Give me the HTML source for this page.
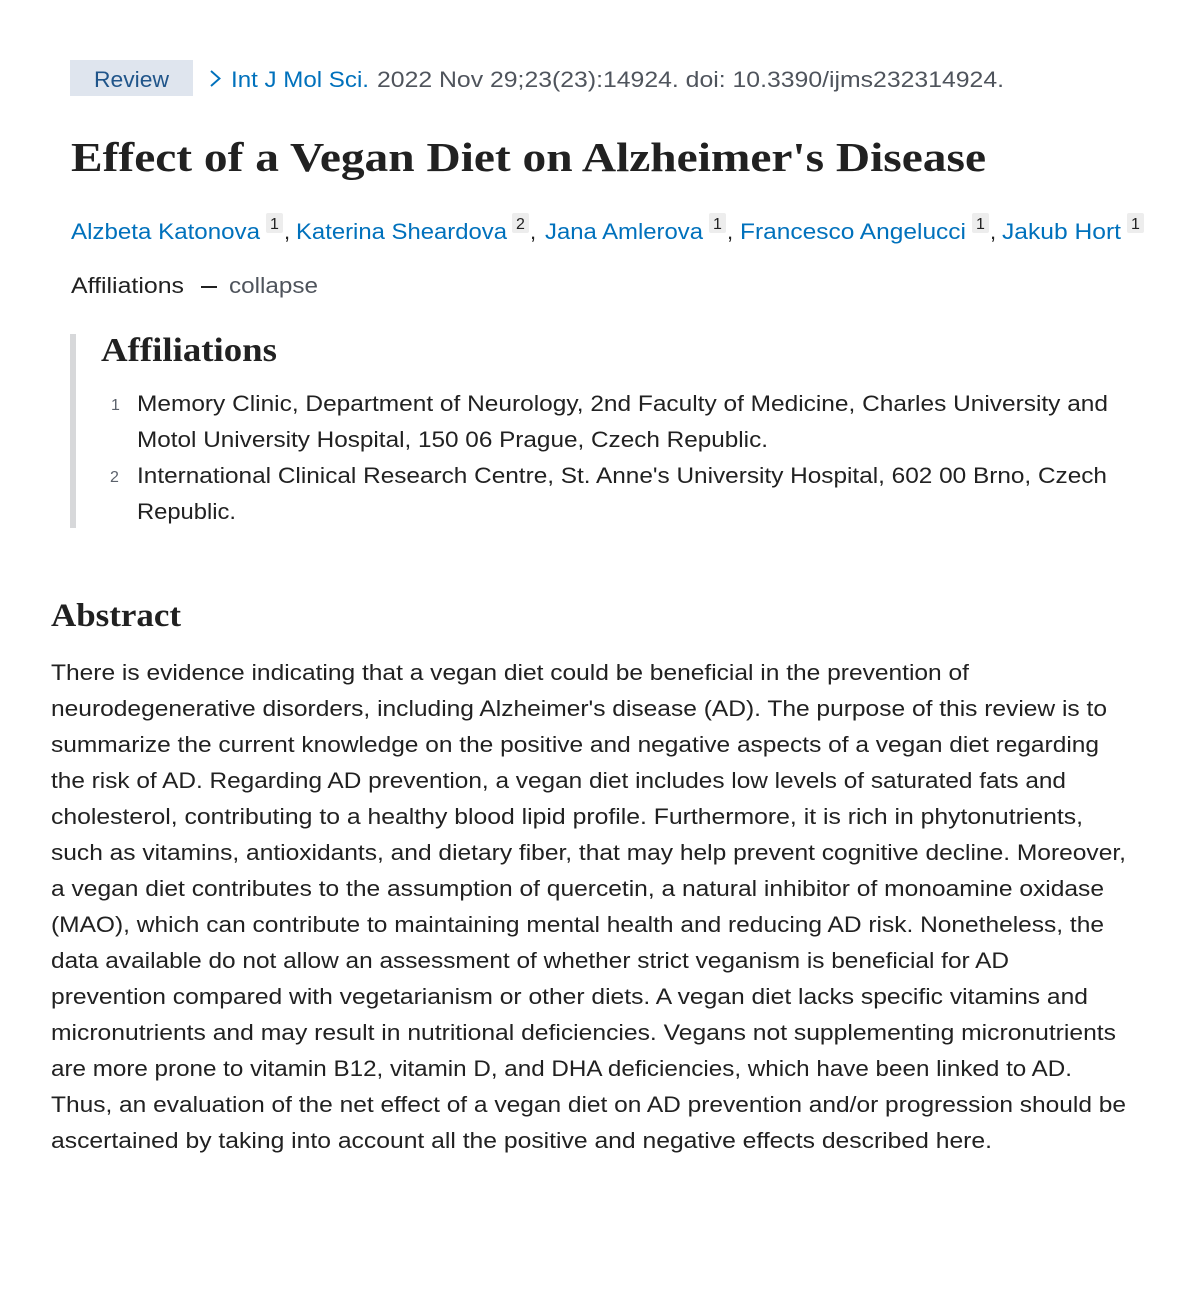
<!DOCTYPE html>
<html>
<head>
<meta charset="utf-8">
<style>
  html, body { margin: 0; padding: 0; background: #ffffff; }
  svg { display: block; }
  .sans { font-family: "Liberation Sans", Arial, sans-serif; }
  .serif { font-family: "Liberation Serif", "Times New Roman", serif; font-weight: bold; }
</style>
</head>
<body>
<svg width="1200" height="1308" viewBox="0 0 1200 1308" xmlns="http://www.w3.org/2000/svg">
  <rect x="0" y="0" width="1200" height="1308" fill="#ffffff"/>

  <!-- Review badge -->
  <rect x="70" y="60" width="123" height="36" fill="#dfe5ee"/>
  <text class="sans" x="94" y="87" font-size="22" fill="#20558a" textLength="75" lengthAdjust="spacingAndGlyphs">Review</text>

  <!-- citation -->
  <polyline points="211,71 219.5,78.5 211,86" fill="none" stroke="#0071bc" stroke-width="1.9"/>
  <text class="sans" x="231" y="87" font-size="22" fill="#0071bc" textLength="138" lengthAdjust="spacingAndGlyphs">Int J Mol Sci.</text>
  <text class="sans" x="377" y="87" font-size="22" fill="#4f545c" textLength="627" lengthAdjust="spacingAndGlyphs">2022 Nov 29;23(23):14924. doi: 10.3390/ijms232314924.</text>

  <!-- title -->
  <text class="serif" x="71" y="171" font-size="41" fill="#212121" textLength="915" lengthAdjust="spacingAndGlyphs">Effect of a Vegan Diet on Alzheimer's Disease</text>

  <!-- authors -->
  <g class="sans" font-size="22">
    <text x="71" y="239" fill="#0071bc" textLength="189" lengthAdjust="spacingAndGlyphs">Alzbeta Katonova</text>
    <rect x="266" y="213" width="17" height="20" rx="2" fill="#ededed"/>
    <text x="274.5" y="229" font-size="16" fill="#212121" text-anchor="middle">1</text>
    <text x="284" y="239" fill="#212121">,</text>

    <text x="296" y="239" fill="#0071bc" textLength="211" lengthAdjust="spacingAndGlyphs">Katerina Sheardova</text>
    <rect x="512" y="213" width="17" height="20" rx="2" fill="#ededed"/>
    <text x="520.5" y="229" font-size="16" fill="#212121" text-anchor="middle">2</text>
    <text x="530" y="239" fill="#212121">,</text>

    <text x="545" y="239" fill="#0071bc" textLength="158" lengthAdjust="spacingAndGlyphs">Jana Amlerova</text>
    <rect x="709" y="213" width="17" height="20" rx="2" fill="#ededed"/>
    <text x="717.5" y="229" font-size="16" fill="#212121" text-anchor="middle">1</text>
    <text x="727" y="239" fill="#212121">,</text>

    <text x="740" y="239" fill="#0071bc" textLength="226" lengthAdjust="spacingAndGlyphs">Francesco Angelucci</text>
    <rect x="972" y="213" width="17" height="20" rx="2" fill="#ededed"/>
    <text x="980.5" y="229" font-size="16" fill="#212121" text-anchor="middle">1</text>
    <text x="990" y="239" fill="#212121">,</text>

    <text x="1002" y="239" fill="#0071bc" textLength="119" lengthAdjust="spacingAndGlyphs">Jakub Hort</text>
    <rect x="1127" y="213" width="17" height="20" rx="2" fill="#ededed"/>
    <text x="1135.5" y="229" font-size="16" fill="#212121" text-anchor="middle">1</text>
  </g>

  <!-- Affiliations toggle -->
  <text class="sans" x="71" y="293" font-size="22" fill="#212121" textLength="113" lengthAdjust="spacingAndGlyphs">Affiliations</text>
  <rect x="201" y="286" width="16" height="2" fill="#212121"/>
  <text class="sans" x="229" y="293" font-size="22" fill="#4f545c" textLength="89" lengthAdjust="spacingAndGlyphs">collapse</text>

  <!-- Affiliations block -->
  <rect x="70" y="334" width="6" height="194" fill="#d7d8da"/>
  <text class="serif" x="101" y="361" font-size="34" fill="#212121" textLength="176" lengthAdjust="spacingAndGlyphs">Affiliations</text>

  <g class="sans" font-size="22" fill="#212121">
    <text x="111" y="410" font-size="16" fill="#5b616b">1</text>
    <text x="137" y="411" textLength="971" lengthAdjust="spacingAndGlyphs">Memory Clinic, Department of Neurology, 2nd Faculty of Medicine, Charles University and</text>
    <text x="137" y="447" textLength="631" lengthAdjust="spacingAndGlyphs">Motol University Hospital, 150 06 Prague, Czech Republic.</text>
    <text x="110" y="482" font-size="16" fill="#5b616b">2</text>
    <text x="137" y="483" textLength="970" lengthAdjust="spacingAndGlyphs">International Clinical Research Centre, St. Anne's University Hospital, 602 00 Brno, Czech</text>
    <text x="137" y="519" textLength="99" lengthAdjust="spacingAndGlyphs">Republic.</text>
  </g>

  <!-- Abstract -->
  <text class="serif" x="51" y="626" font-size="33" fill="#212121" textLength="130" lengthAdjust="spacingAndGlyphs">Abstract</text>

  <g class="sans" font-size="22" fill="#212121">
    <text x="51" y="680" textLength="918" lengthAdjust="spacingAndGlyphs">There is evidence indicating that a vegan diet could be beneficial in the prevention of</text>
    <text x="51" y="716" textLength="1056" lengthAdjust="spacingAndGlyphs">neurodegenerative disorders, including Alzheimer's disease (AD). The purpose of this review is to</text>
    <text x="51" y="752" textLength="1048" lengthAdjust="spacingAndGlyphs">summarize the current knowledge on the positive and negative aspects of a vegan diet regarding</text>
    <text x="51" y="788" textLength="1015" lengthAdjust="spacingAndGlyphs">the risk of AD. Regarding AD prevention, a vegan diet includes low levels of saturated fats and</text>
    <text x="51" y="824" textLength="1032" lengthAdjust="spacingAndGlyphs">cholesterol, contributing to a healthy blood lipid profile. Furthermore, it is rich in phytonutrients,</text>
    <text x="51" y="860" textLength="1075" lengthAdjust="spacingAndGlyphs">such as vitamins, antioxidants, and dietary fiber, that may help prevent cognitive decline. Moreover,</text>
    <text x="51" y="896" textLength="1053" lengthAdjust="spacingAndGlyphs">a vegan diet contributes to the assumption of quercetin, a natural inhibitor of monoamine oxidase</text>
    <text x="51" y="932" textLength="1053" lengthAdjust="spacingAndGlyphs">(MAO), which can contribute to maintaining mental health and reducing AD risk. Nonetheless, the</text>
    <text x="51" y="968" textLength="958" lengthAdjust="spacingAndGlyphs">data available do not allow an assessment of whether strict veganism is beneficial for AD</text>
    <text x="51" y="1004" textLength="1037" lengthAdjust="spacingAndGlyphs">prevention compared with vegetarianism or other diets. A vegan diet lacks specific vitamins and</text>
    <text x="51" y="1040" textLength="1065" lengthAdjust="spacingAndGlyphs">micronutrients and may result in nutritional deficiencies. Vegans not supplementing micronutrients</text>
    <text x="51" y="1076" textLength="1021" lengthAdjust="spacingAndGlyphs">are more prone to vitamin B12, vitamin D, and DHA deficiencies, which have been linked to AD.</text>
    <text x="51" y="1112" textLength="1075" lengthAdjust="spacingAndGlyphs">Thus, an evaluation of the net effect of a vegan diet on AD prevention and/or progression should be</text>
    <text x="51" y="1148" textLength="941" lengthAdjust="spacingAndGlyphs">ascertained by taking into account all the positive and negative effects described here.</text>
  </g>
</svg>
</body>
</html>
